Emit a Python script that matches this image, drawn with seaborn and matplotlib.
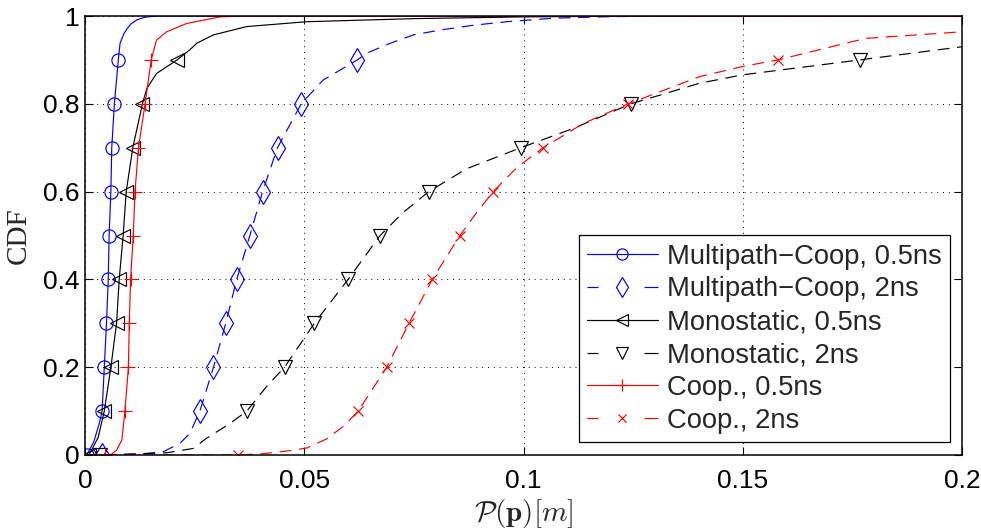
import numpy as np
import pandas as pd
import matplotlib
matplotlib.use("Agg")
import matplotlib.pyplot as plt
from matplotlib.lines import Line2D
import seaborn as sns

# CDF levels at which the markers sit
marker_levels = [0.0, 0.1, 0.2, 0.3, 0.4, 0.5, 0.6, 0.7, 0.8, 0.9]

# Error values (m) reached at each marker level
mc05_marker_x = [0.0004, 0.0039, 0.0044, 0.0049, 0.0053, 0.0055, 0.0059, 0.0061, 0.0067, 0.0076]
mc2_marker_x = [0.0038, 0.0262, 0.0293, 0.0321, 0.0346, 0.0376, 0.0405, 0.0439, 0.0493, 0.0621]
mono05_marker_x = [0.0009, 0.0044, 0.0059, 0.0072, 0.0078, 0.0087, 0.0094, 0.0109, 0.0131, 0.0210]
mono2_marker_x = [0.0035, 0.0369, 0.0455, 0.0523, 0.0600, 0.0673, 0.0784, 0.0994, 0.1245, 0.1767]
coop05_marker_x = [0.0046, 0.0091, 0.0099, 0.0101, 0.0104, 0.0110, 0.0114, 0.0122, 0.0137, 0.0151]
coop2_marker_x = [0.0348, 0.0623, 0.0688, 0.0739, 0.0792, 0.0855, 0.0931, 0.1045, 0.1239, 0.1580]

# Empirical CDF curves: error (m) and cumulative probability
mc05_x = [0, 0.0004, 0.0020, 0.0032, 0.0039, 0.0044, 0.0049, 0.0053, 0.0055, 0.0059, 0.0061,
          0.0067, 0.0076, 0.0080, 0.0088, 0.0095, 0.0105, 0.0118, 0.0135, 0.0163, 0.2]
mc05_cdf = [0, 0, 0.03, 0.07, 0.1, 0.2, 0.3, 0.4, 0.5, 0.6, 0.7,
            0.8, 0.9, 0.938, 0.958, 0.970, 0.982, 0.991, 0.997, 1.0, 1.0]

mc2_x = [0, 0.0038, 0.0125, 0.0179, 0.0217, 0.0239, 0.0262, 0.0293, 0.0321, 0.0346, 0.0376,
         0.0405, 0.0439, 0.0493, 0.0543, 0.0621, 0.0642, 0.0696, 0.0749, 0.0810, 0.0886,
         0.0962, 0.1068, 0.1174, 0.1300, 0.2]
mc2_cdf = [0, 0, 0.002, 0.0075, 0.027, 0.049, 0.1, 0.2, 0.3, 0.4, 0.5,
           0.6, 0.7, 0.8, 0.854, 0.9, 0.915, 0.938, 0.957, 0.968, 0.979,
           0.987, 0.995, 0.998, 1.0, 1.0]

mono05_x = [0, 0.0009, 0.0030, 0.0044, 0.0059, 0.0072, 0.0078, 0.0087, 0.0094, 0.0109, 0.0131,
            0.0141, 0.0163, 0.0210, 0.0239, 0.0255, 0.0293, 0.0369, 0.0506, 0.0750, 0.1000,
            0.1300, 0.2]
mono05_cdf = [0, 0, 0.04, 0.1, 0.2, 0.3, 0.4, 0.5, 0.6, 0.7, 0.8,
              0.835, 0.869, 0.9, 0.923, 0.938, 0.957, 0.976, 0.987, 0.994, 0.998,
              1.0, 1.0]

mono2_x = [0, 0.0035, 0.0186, 0.0247, 0.0277, 0.0331, 0.0369, 0.0414, 0.0455, 0.0523, 0.0600,
           0.0673, 0.0725, 0.0784, 0.0870, 0.0994, 0.1114, 0.1245, 0.1402, 0.1500, 0.1767, 0.2]
mono2_cdf = [0, 0, 0.005, 0.015, 0.038, 0.072, 0.1, 0.156, 0.2, 0.3, 0.4,
             0.5, 0.552, 0.6, 0.652, 0.7, 0.744, 0.8, 0.847, 0.866, 0.9, 0.930]

coop05_x = [0, 0.0046, 0.0061, 0.0072, 0.0084, 0.0091, 0.0099, 0.0101, 0.0104, 0.0110, 0.0114,
            0.0122, 0.0137, 0.0151, 0.0163, 0.0186, 0.0232, 0.0308, 0.0369, 0.2]
coop05_cdf = [0, 0, 0.002, 0.011, 0.034, 0.1, 0.2, 0.3, 0.4, 0.5, 0.6,
              0.7, 0.8, 0.9, 0.945, 0.964, 0.983, 0.998, 1.0, 1.0]

coop2_x = [0, 0.0348, 0.0407, 0.0468, 0.0506, 0.0550, 0.0590, 0.0623, 0.0688, 0.0739, 0.0792,
           0.0855, 0.0893, 0.0931, 0.0985, 0.1045, 0.1136, 0.1239, 0.1402, 0.1500, 0.1580,
           0.1780, 0.2]
coop2_cdf = [0, 0, 0.003, 0.010, 0.016, 0.036, 0.066, 0.1, 0.2, 0.3, 0.4,
             0.5, 0.552, 0.6, 0.655, 0.7, 0.755, 0.8, 0.862, 0.885, 0.9,
             0.949, 0.964]

labels = ["Multipath\u2212Coop, 0.5ns", "Multipath\u2212Coop, 2ns",
          "Monostatic, 0.5ns", "Monostatic, 2ns",
          "Coop., 0.5ns", "Coop., 2ns"]

x_ticks = [0, 0.05, 0.1, 0.15, 0.2]
x_tick_labels = ["0", "0.05", "0.1", "0.15", "0.2"]
y_ticks = [0, 0.2, 0.4, 0.6, 0.8, 1.0]
y_tick_labels = ["0", "0.2", "0.4", "0.6", "0.8", "1"]

sns.set_style("ticks", {"xtick.direction": "in", "ytick.direction": "in"})
plt.rcParams["font.family"] = ["Liberation Sans", "DejaVu Sans"]
plt.rcParams["mathtext.fontset"] = "cm"

BLUE, RED, BLACK = (0, 0, 1), (1, 0, 0), (0, 0, 0)
DASH = (10, 6.5)
LEGEND_DASH = (9.3, 39, 30, 10)
LW = 0.85

series = [
    (mc05_x, mc05_cdf, mc05_marker_x, BLUE, "-", "o", 9.5, labels[0]),
    (mc2_x, mc2_cdf, mc2_marker_x, BLUE, "--", "d", 12, labels[1]),
    (mono05_x, mono05_cdf, mono05_marker_x, BLACK, "-", "<", 10.5, labels[2]),
    (mono2_x, mono2_cdf, mono2_marker_x, BLACK, "--", "v", 10.5, labels[3]),
    (coop05_x, coop05_cdf, coop05_marker_x, RED, "-", "+", 10, labels[4]),
    (coop2_x, coop2_cdf, coop2_marker_x, RED, "--", "x", 7.5, labels[5]),
]

fig = plt.figure(figsize=(9.81, 5.32), dpi=100)
ax = fig.add_axes([85 / 981, 1 - 455 / 532, 877 / 981, 439 / 532])

handles = []
for xs, ys, mx, color, ls, mk, ms, lab in series:
    curve = pd.DataFrame({"err": xs, "cdf": ys})
    line_kw = dict(color=color, linewidth=LW)
    if ls == "--":
        line_kw["dashes"] = DASH
    sns.lineplot(data=curve, x="err", y="cdf", ax=ax, sort=False, estimator=None,
                 legend=False, **line_kw)
    pts = pd.DataFrame({"err": mx, "cdf": marker_levels})
    sns.lineplot(data=pts, x="err", y="cdf", ax=ax, sort=False, estimator=None,
                 legend=False, linestyle="", marker=mk, markersize=ms,
                 markerfacecolor="none", markeredgecolor=color, markeredgewidth=LW,
                 color=color)
    h = Line2D([], [], color=color, linewidth=LW, marker=mk, markersize=ms * 0.85,
               markerfacecolor="none", markeredgecolor=color, markeredgewidth=LW)
    if ls == "--":
        h.set_dashes(LEGEND_DASH)
    handles.append(h)

ax.set_xlim(0, 0.2)
ax.set_ylim(0, 1)
ax.set_xticks(x_ticks)
ax.set_xticklabels(x_tick_labels)
ax.set_yticks(y_ticks)
ax.set_yticklabels(y_tick_labels)
ax.tick_params(axis="both", which="major", direction="in", length=6, width=0.8,
               labelsize=19, top=True, right=True, colors="k")
ax.tick_params(axis="x", pad=10)
ax.tick_params(axis="y", pad=4)
ax.grid(True, color="k", linestyle=(0, (1, 5)), linewidth=0.7)
for sp in ax.spines.values():
    sp.set_visible(True)
    sp.set_linewidth(1.1)
    sp.set_color("k")

ax.set_xlabel(r"$\mathcal{P}(\mathbf{p})[m]$", fontsize=21, labelpad=3)
ax.set_ylabel("CDF", fontsize=21, family=["Liberation Serif", "DejaVu Serif"], labelpad=8)

leg = ax.legend(handles, labels, loc="lower right", bbox_to_anchor=(950 / 981, (532 - 442) / 532),
                bbox_transform=fig.transFigure, fontsize=19.7, numpoints=1,
                handlelength=2.6, handletextpad=0.33, labelspacing=0.25,
                borderpad=0.3, borderaxespad=0, fancybox=False, framealpha=1,
                edgecolor="k")
leg.get_frame().set_linewidth(0.9)

fig.savefig("out.png", dpi=100)
